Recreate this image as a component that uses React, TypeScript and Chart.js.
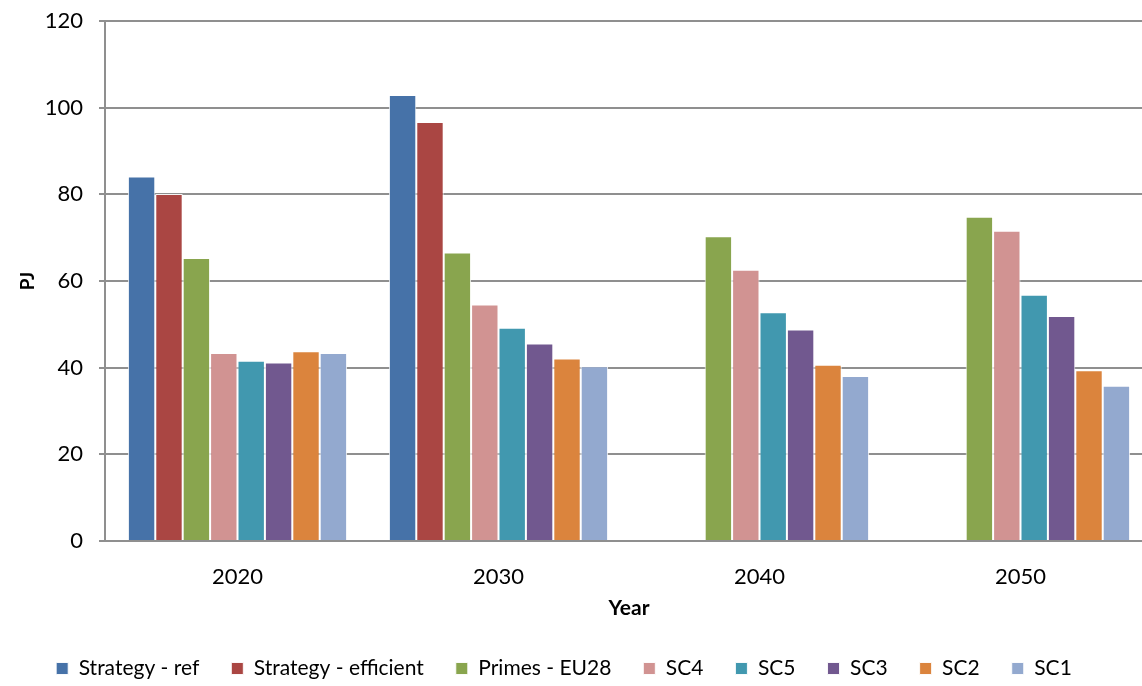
import React, { useEffect, useRef } from "react";
import { Chart, registerables } from "chart.js";

Chart.register(...registerables);

// Years on the category axis
const years = ["2020", "2030", "2040", "2050"];

// Series values in PJ (null = no value for that year)
const strategyRef = [84.1, 102.9, null, null];
const strategyEfficient = [80.1, 96.7, null, null];
const primesEU28 = [65.3, 66.6, 70.3, 74.8];
const sc4 = [43.4, 54.6, 62.6, 71.6];
const sc5 = [41.6, 49.2, 52.8, 56.8];
const sc3 = [41.2, 45.6, 48.8, 51.9];
const sc2 = [43.8, 42.1, 40.7, 39.4];
const sc1 = [43.4, 40.3, 38.1, 35.8];

const seriesNames = [
  "Strategy - ref",
  "Strategy - efficient",
  "Primes - EU28",
  "SC4",
  "SC5",
  "SC3",
  "SC2",
  "SC1",
];
const seriesValues = [strategyRef, strategyEfficient, primesEU28, sc4, sc5, sc3, sc2, sc1];
const seriesColors = [
  "#4672A8",
  "#AA4643",
  "#89A54E",
  "#D19392",
  "#4198AF",
  "#71588F",
  "#DB843D",
  "#93A9CF",
];

const yTicks = [0, 20, 40, 60, 80, 100, 120];

const FONT = "Lato, 'Noto Sans', sans-serif";
const GRID = "#8f8f8f";

// The category axis runs a little past the right edge of the canvas,
// and the legend sits slightly left of centre.
const layoutTweaks = {
  id: "layoutTweaks",
  afterLayout(chart: any) {
    const x = chart.scales.x;
    x.left += 2;
    x.right += 9;
    x.width = x.right - x.left;
    x.configure();
    const legend = chart.legend;
    if (legend) {
      legend.left -= 7;
      legend.right -= 7;
    }
  },
};

export default function App() {
  const canvasRef = useRef<HTMLCanvasElement | null>(null);

  useEffect(() => {
    const canvas = canvasRef.current;
    if (!canvas) return;

    const chart = new Chart(canvas, {
      type: "bar",
      data: {
        labels: years,
        datasets: seriesNames.map((name, i) => ({
          label: name,
          data: seriesValues[i],
          backgroundColor: seriesColors[i],
          borderColor: "rgba(255,255,255,0.9)",
          borderWidth: 1,
          barPercentage: 1,
          categoryPercentage: 0.84,
        })),
      },
      plugins: [layoutTweaks],
      options: {
        responsive: false,
        animation: false,
        layout: { padding: { top: 21, right: 0, bottom: -3, left: 0 } },
        plugins: {
          tooltip: { enabled: false },
          legend: {
            position: "bottom",
            labels: {
              boxWidth: 12,
              boxHeight: 12,
              padding: 32,
              color: "#000",
              font: { family: FONT, size: 21 },
            },
          },
        },
        scales: {
          x: {
            grid: { display: false, drawTicks: false },
            border: { display: true, color: GRID, width: 2 },
            ticks: {
              color: "#000",
              font: { family: FONT, size: 22 },
              padding: 23,
            },
            title: {
              display: true,
              text: "Year",
              color: "#000",
              font: { family: FONT, size: 21, weight: "bold" },
              padding: { top: 0, bottom: 5 },
            },
            afterFit: (scale: any) => {
              scale.height = 85;
              scale.paddingLeft = 0;
              scale.paddingRight = 0;
            },
          },
          y: {
            min: 0,
            max: 120,
            afterBuildTicks: (scale: any) => {
              scale.ticks = yTicks.map((v) => ({ value: v }));
            },
            grid: {
              color: GRID,
              lineWidth: 2,
              drawTicks: true,
              tickLength: 6,
              tickColor: GRID,
            },
            border: { display: true, color: GRID, width: 2 },
            ticks: {
              color: "#000",
              font: { family: FONT, size: 22 },
              padding: 16,
            },
            title: {
              display: true,
              text: "PJ",
              color: "#000",
              font: { family: FONT, size: 19, weight: "bold" },
              padding: { top: 16, bottom: 0 },
            },
            afterFit: (scale: any) => {
              scale.width = 105;
              scale.paddingTop = 0;
              scale.paddingBottom = 0;
            },
          },
        },
      },
    });

    return () => chart.destroy();
  }, []);

  return (
    <div style={{ position: "fixed", left: 0, top: 0, width: 1142, height: 686, background: "#fff" }}>
      <canvas ref={canvasRef} width={1142} height={686} />
    </div>
  );
}
